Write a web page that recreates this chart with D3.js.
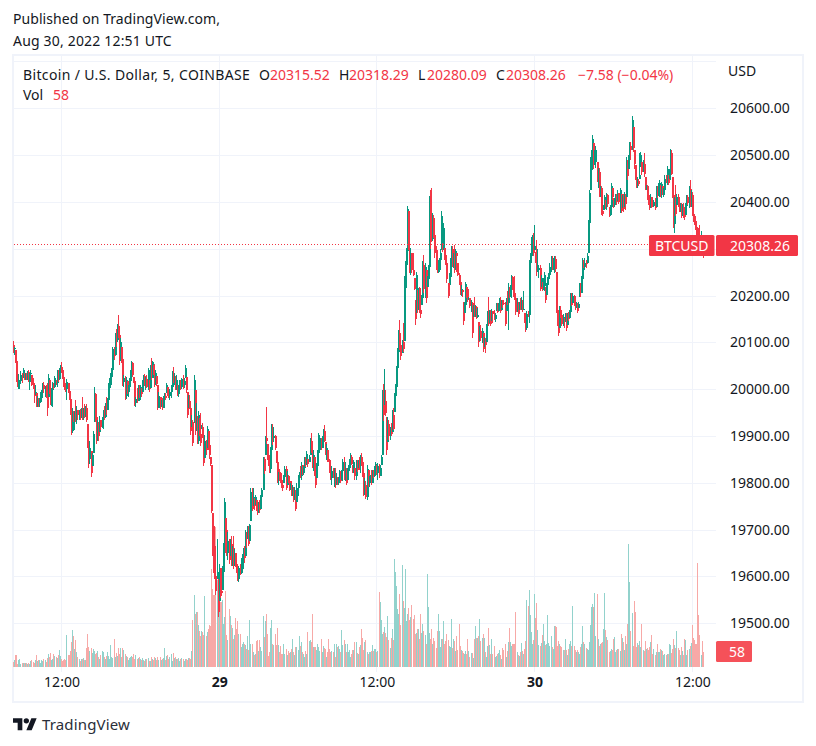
<!DOCTYPE html>
<html><head><meta charset="utf-8">
<script src="https://cdn.jsdelivr.net/npm/d3@7"></script>
<style>html,body{margin:0;background:#fff}svg{display:block}text{font-family:"Noto Sans",sans-serif}</style>
</head><body><svg id="c" width="816" height="746"></svg>
<script>
const priceTicks=[19500,19600,19700,19800,19900,20000,20100,20200,20300,20400,20500,20600,20700];
const priceLabels=[19500,19600,19700,19800,19900,20000,20100,20200,20400,20500,20600];
const timeTicks=["2022-08-28T12:00Z","2022-08-29T00:00Z","2022-08-29T12:00Z","2022-08-30T00:00Z","2022-08-30T12:00Z"];
const timeLabels=["12:00","29","12:00","30","12:00"];
const firstBar="2022-08-28T08:20Z";
const firstOpen=20095;
const lastPrice=20308.26, lastVolume=58;
const highs=[
20104,20091,20084,20061,20050,20033,20020,20038,20035,20045,20034,20035,
20034,20038,20040,20035,20041,20031,20025,20013,20009,19992,19985,19981,
19981,19995,19999,20013,20016,20007,20009,20013,20033,20020,20004,20002,
20016,20013,20028,20020,20041,20041,20045,20052,20059,20043,20030,20020,
20014,20021,20013,20013,19981,19970,19960,19953,19953,19977,19965,19956,
19956,19957,19960,19983,19960,19969,19965,19969,19926,19914,19890,19867,
19864,19910,20004,19992,19949,19935,19931,19943,19935,19940,19956,19965,
19970,19984,19981,20013,20025,20034,20045,20091,20091,20119,20128,20139,
20158,20130,20110,20091,20085,20031,20028,20027,20018,20009,20023,20040,
20061,20059,20027,20027,19984,20002,20009,20009,20009,20002,20020,20031,
20033,20027,20031,20045,20020,20052,20066,20060,20052,20054,20040,20028,
20009,19995,19984,19977,19981,19985,19992,19992,20013,20005,19999,20000,
20009,20038,20048,20035,20028,20031,20009,20009,20020,20020,20025,20031,
20023,20052,20026,19995,19988,19988,19963,19945,19935,20031,19999,19970,
19942,19953,19938,19949,19924,19928,19903,19903,19892,19922,19910,19900,
19856,19838,19736,19721,19707,19665,19679,19594,19626,19619,19619,19622,
19672,19767,19725,19711,19695,19679,19679,19686,19665,19686,19658,19650,
19633,19626,19622,19626,19640,19647,19661,19665,19700,19695,19707,19707,
19713,19789,19789,19789,19767,19775,19764,19757,19760,19764,19775,19789,
19856,19856,19900,19962,19884,19863,19860,19877,19926,19926,19920,19902,
19867,19849,19824,19830,19824,19821,19806,19817,19836,19835,19825,19817,
19814,19799,19803,19796,19792,19792,19785,19800,19817,19824,19835,19845,
19838,19835,19856,19856,19867,19852,19860,19895,19906,19885,19870,19856,
19835,19842,19870,19906,19902,19895,19899,19915,19923,19888,19884,19870,
19863,19849,19831,19835,19831,19831,19831,19820,19813,19813,19828,19825,
19828,19850,19856,19845,19831,19831,19838,19850,19863,19860,19838,19849,
19831,19849,19849,19849,19855,19860,19863,19852,19824,19810,19803,19838,
19828,19814,19817,19828,19828,19828,19835,19845,19838,19842,19840,19838,
19860,19999,20012,20044,19999,19941,19941,19934,19920,19927,19955,19959,
19991,20012,20050,20087,20127,20148,20119,20105,20141,20241,20273,20301,
20392,20380,20364,20301,20291,20291,20237,20191,20251,20212,20216,20219,
20216,20202,20273,20287,20270,20255,20241,20266,20412,20425,20429,20376,20373,20344,
20305,20298,20276,20280,20300,20380,20312,20356,20301,20295,20287,20226,20248,20280,
20306,20306,20291,20309,20300,20292,20269,20248,20230,20222,20212,20187,20187,20230,
20219,20216,20198,20194,20190,20187,20180,20198,20180,20178,20173,20144,20134,20137,
20130,20119,20112,20109,20140,20166,20198,20169,20169,20172,20166,20169,20162,20184,
20184,20184,20194,20198,20190,20191,20191,20187,20194,20210,20226,20219,20223,20244,
20241,20223,20241,20205,20195,20187,20187,20194,20198,20190,20209,20162,20155,20166,
20166,20276,20291,20326,20330,20334,20351,20294,20319,20300,20266,20266,20244,20230,
20237,20251,20219,20226,20240,20248,20269,20284,20284,20280,20284,20284,20251,20191,
20148,20177,20177,20169,20160,20152,20162,20162,20162,20165,20169,20205,20205,20205,
20202,20198,20187,20184,20187,20226,20226,20241,20280,20276,20280,20276,
20291,20362,20426,20496,20512,20543,20525,20511,20519,20486,20472,20472,
20433,20433,20394,20394,20415,20405,20420,20418,20390,20394,20441,20429,
20408,20408,20418,20418,20426,20420,20429,20418,20415,20418,20422,20418,
20496,20489,20500,20528,20528,20583,20560,20510,20479,20457,20454,20450,
20504,20507,20486,20490,20504,20454,20436,20436,20429,20415,20418,20410,
20404,20404,20408,20433,20433,20440,20447,20436,20443,20433,20429,20457,
20457,20477,20457,20470,20514,20511,20454,20433,20411,20436,20418,20418,
20411,20397,20397,20395,20397,20390,20397,20415,20415,20433,20447,20426,
20422,20387,20375,20369,20358,20347,20345,20351,20337,20330,20318.29];
const lows=[
20077,20073,20055,20016,20005,20000,20000,20013,20013,20023,20020,20020,
20020,20020,20016,19999,20016,20006,20000,19970,19988,19962,19962,19962,
19962,19970,19972,19981,19992,19984,19981,19942,19984,19990,19967,19965,
19962,20000,20002,20009,20004,20016,20020,20023,20034,20021,20005,19999,
19995,19977,19992,19977,19945,19903,19906,19931,19912,19931,19925,19935,
19935,19935,19938,19935,19935,19938,19940,19931,19875,19832,19840,19813,
19837,19864,19931,19931,19884,19890,19889,19909,19912,19918,19915,19935,
19938,19945,19956,19974,20000,20002,20016,20027,20062,20073,20090,20101,
20109,20052,20060,20055,20006,20004,19977,19979,19990,19984,20002,20015,
20020,20027,20014,19965,19963,19970,19974,19981,19977,19984,19995,20002,
20006,19999,20002,19999,19993,20002,20020,20025,20031,20004,20010,20006,
19956,19960,19957,19963,19956,19960,19965,19977,19992,19985,19981,19978,
19981,19995,20014,20010,19999,19999,19986,19984,19997,19999,20000,20000,
20002,20023,19992,19938,19960,19957,19903,19920,19878,19928,19903,19910,
19882,19882,19899,19878,19914,19896,19836,19853,19860,19875,19870,19850,
19835,19736,19643,19608,19594,19560,19594,19513,19548,19555,19558,19572,
19587,19665,19650,19643,19635,19626,19643,19622,19622,19615,19622,19620,
19608,19590,19588,19604,19605,19608,19615,19629,19643,19660,19679,19665,
19675,19718,19739,19750,19743,19753,19739,19732,19735,19736,19745,19753,
19785,19819,19860,19884,19849,19835,19821,19821,19852,19880,19888,19870,
19842,19799,19796,19805,19799,19789,19782,19799,19801,19785,19795,19799,
19782,19785,19771,19771,19760,19763,19739,19760,19771,19803,19810,19806,
19817,19817,19828,19834,19838,19834,19845,19860,19863,19831,19825,19814,
19789,19810,19831,19860,19863,19870,19874,19885,19888,19860,19848,19845,
19845,19822,19806,19796,19810,19792,19789,19795,19796,19796,19799,19800,
19806,19803,19806,19805,19796,19806,19813,19825,19831,19838,19821,19821,
19806,19806,19824,19831,19828,19821,19835,19813,19771,19775,19765,19764,
19792,19792,19799,19796,19799,19810,19812,19817,19817,19806,19810,19815,
19838,19860,19933,19966,19943,19860,19888,19891,19891,19899,19909,19913,
19952,19952,20000,20033,20062,20084,20062,20077,20080,20102,20162,20216,
20276,20298,20248,20244,20248,20241,20212,20137,20162,20162,20169,20162,
20152,20180,20184,20205,20195,20184,20219,20234,20262,20300,20314,20316,20323,20280,
20255,20248,20248,20251,20275,20298,20294,20298,20276,20265,20226,20194,20226,20223,
20255,20262,20259,20248,20255,20251,20241,20223,20201,20200,20198,20137,20162,20162,
20194,20187,20191,20173,20165,20109,20155,20155,20155,20150,20152,20091,20102,20102,
20098,20080,20091,20077,20100,20127,20134,20141,20134,20145,20141,20148,20144,20166,
20162,20166,20173,20162,20170,20173,20180,20134,20166,20180,20127,20194,20198,20194,
20212,20198,20191,20159,20165,20155,20169,20169,20169,20165,20169,20141,20123,20127,
20155,20141,20234,20276,20285,20284,20298,20269,20241,20250,20237,20209,20219,20209,
20212,20209,20184,20201,20215,20223,20237,20251,20255,20255,20248,20251,20162,20134,
20114,20130,20152,20134,20135,20130,20144,20125,20137,20145,20152,20162,20177,20184,
20177,20169,20173,20162,20173,20198,20198,20205,20226,20259,20255,20259,
20269,20291,20348,20426,20440,20468,20470,20479,20472,20443,20429,20411,
20411,20372,20369,20383,20390,20385,20383,20390,20367,20369,20383,20404,
20387,20390,20394,20394,20401,20395,20376,20376,20387,20379,20390,20383,
20411,20447,20470,20489,20489,20511,20507,20470,20447,20429,20429,20433,
20450,20475,20457,20465,20454,20426,20426,20404,20394,20383,20387,20388,
20390,20390,20383,20390,20408,20412,20411,20411,20408,20415,20411,20415,
20440,20436,20436,20450,20447,20457,20408,20344,20333,20369,20394,20390,
20379,20379,20365,20370,20365,20362,20372,20390,20394,20387,20390,20390,
20369,20358,20350,20340,20325,20312,20300,20284,20291,20290,20280.09];
const closes=[
20085,20088,20060,20022,20010,20012,20018,20030,20028,20040,20026,20030,
20024,20036,20020,20034,20035,20010,20008,19985,19995,19968,19975,19970,
19978,19990,19994,20008,20000,20004,19986,19960,20025,20000,19975,19998,
20010,20004,20024,20014,20036,20022,20040,20048,20040,20026,20008,20003,
20000,20015,19996,19980,19950,19910,19950,19935,19948,19940,19955,19945,
19952,19938,19955,19942,19958,19945,19960,19935,19885,19850,19875,19820,
19860,19905,19990,19940,19895,19925,19900,19935,19920,19935,19950,19940,
19965,19955,19978,20005,20010,20030,20040,20085,20070,20115,20105,20135,
20115,20060,20100,20065,20015,20025,19985,20020,19995,20005,20018,20035,
20055,20030,20018,19970,19980,19975,20002,19990,20004,19990,20015,20028,
20010,20022,20005,20040,20000,20048,20025,20058,20035,20010,20035,20012,
19960,19985,19965,19975,19960,19978,19985,19982,20008,19990,19985,19995,
20005,20032,20020,20028,20003,20020,19990,20005,20015,20005,20022,20008,
20018,20045,19998,19945,19975,19960,19910,19930,19885,20020,19915,19930,
19890,19945,19905,19885,19920,19900,19842,19890,19870,19915,19880,19860,
19840,19740,19650,19615,19600,19570,19610,19525,19600,19570,19565,19610,
19665,19760,19700,19650,19675,19635,19670,19630,19660,19625,19650,19625,
19612,19595,19618,19608,19635,19642,19655,19640,19690,19680,19702,19670,
19710,19780,19745,19770,19750,19770,19745,19738,19755,19742,19770,19785,
19850,19825,19895,19890,19855,19845,19830,19870,19920,19895,19900,19875,
19845,19805,19820,19810,19805,19795,19790,19812,19830,19790,19815,19805,
19785,19795,19775,19790,19765,19785,19745,19790,19810,19820,19815,19838,
19820,19832,19850,19838,19862,19840,19855,19890,19870,19840,19860,19820,
19795,19835,19865,19870,19895,19875,19895,19910,19890,19865,19875,19850,
19848,19826,19810,19825,19812,19820,19795,19810,19800,19810,19822,19805,
19825,19845,19812,19825,19800,19828,19835,19845,19855,19840,19825,19845,
19815,19845,19828,19845,19835,19855,19845,19820,19780,19795,19770,19830,
19800,19808,19812,19800,19825,19815,19830,19840,19820,19835,19815,19832,
19855,19990,19945,19975,19950,19870,19925,19900,19915,19905,19945,19915,
19985,20005,20045,20080,20120,20095,20070,20100,20085,20235,20265,20295,
20385,20300,20255,20290,20255,20245,20215,20150,20245,20170,20210,20170,
20160,20195,20265,20215,20260,20195,20235,20260,20405,20340,20320,20365,20330,20290,
20260,20252,20255,20275,20290,20370,20300,20345,20285,20270,20235,20200,20240,20275,
20300,20268,20285,20255,20295,20285,20245,20228,20205,20215,20208,20145,20180,20225,
20215,20190,20195,20178,20185,20120,20175,20160,20175,20155,20158,20100,20125,20110,
20125,20085,20105,20095,20135,20160,20140,20165,20140,20168,20160,20150,20158,20180,
20165,20180,20190,20168,20188,20185,20182,20140,20190,20185,20215,20200,20218,20240,
20215,20205,20195,20165,20180,20160,20180,20175,20190,20170,20172,20148,20130,20160,
20158,20270,20285,20320,20328,20290,20305,20280,20250,20255,20258,20215,20238,20215,
20220,20245,20190,20222,20235,20244,20262,20278,20260,20275,20278,20256,20170,20140,
20120,20170,20158,20140,20155,20148,20155,20130,20155,20150,20165,20198,20180,20200,
20185,20175,20180,20168,20182,20220,20205,20235,20275,20262,20270,20268,
20285,20355,20420,20490,20505,20535,20480,20485,20510,20450,20465,20420,
20430,20380,20375,20390,20410,20390,20415,20395,20372,20390,20435,20410,
20395,20405,20410,20400,20420,20400,20425,20380,20410,20385,20415,20395,
20490,20455,20495,20520,20510,20575,20515,20480,20450,20435,20445,20438,
20458,20500,20465,20480,20460,20430,20434,20410,20400,20390,20410,20395,
20392,20400,20388,20428,20415,20435,20440,20418,20438,20420,20425,20450,
20445,20470,20440,20465,20505,20460,20415,20352,20405,20375,20410,20395,
20385,20392,20370,20390,20372,20368,20392,20410,20398,20428,20395,20415,
20375,20362,20360,20345,20330,20320,20310,20295,20325,20315.52,20308.26];
const volumes=[
20,28,45,45,13,26,32,13,15,15,15,14,
15,10,17,12,22,26,18,15,26,46,24,28,
26,15,28,24,32,28,20,36,50,38,52,28,
30,50,42,38,36,48,64,42,30,24,28,30,
28,122,48,45,62,98,141,118,70,103,58,40,
32,25,32,30,36,28,28,75,128,78,60,75,
55,70,60,50,55,62,38,32,48,60,58,40,
32,42,56,44,30,86,38,36,109,40,52,42,
72,50,72,38,72,64,50,44,40,28,35,38,
42,40,50,32,45,30,34,38,32,26,34,28,
22,30,30,35,22,24,38,30,28,40,34,28,
40,28,40,26,30,36,75,26,44,48,30,40,
50,24,52,34,38,32,30,36,22,30,34,30,
24,30,32,26,34,36,30,60,182,276,205,210,
210,160,140,118,140,135,125,272,120,135,145,160,
156,378,300,276,276,538,333,333,260,250,250,256,
167,192,291,122,105,225,195,160,151,109,122,190,
148,176,128,126,77,90,96,90,83,71,118,64,
180,87,87,58,47,51,100,103,62,103,77,60,
195,115,176,205,126,41,58,151,180,90,83,128,
86,151,83,58,80,51,49,87,51,68,45,60,
54,58,69,109,58,45,77,77,64,118,80,96,
58,51,38,62,49,135,100,103,96,203,77,77,
77,67,87,77,60,109,58,80,74,70,38,58,
109,70,58,62,58,87,38,90,77,80,70,58,
141,83,105,87,58,87,58,64,38,51,67,67,
96,96,54,49,77,83,148,113,64,96,103,58,
49,58,58,62,83,62,70,70,58,62,289,250,
180,128,135,154,131,115,195,105,74,113,148,103,
417,366,310,225,205,280,160,391,254,228,376,177,
203,228,182,192,237,183,199,128,132,145,148,109,
205,132,167,139,122,87,359,231,132,109,148,90,
113,99,74,137,205,137,77,109,109,176,90,100,
126,103,82,77,183,73,106,100,60,118,64,167,
80,64,60,55,51,60,49,106,60,38,54,54,
36,106,157,113,113,118,183,100,113,126,113,58,
38,81,151,83,51,106,51,81,38,42,49,55,
64,45,32,74,67,90,38,60,95,149,95,80,
87,87,87,212,58,45,41,58,92,60,49,68,
100,257,235,295,199,135,87,103,280,187,246,141,
83,80,94,122,164,99,83,87,199,92,80,118,
77,68,157,157,153,80,99,90,80,77,64,67,
106,64,45,71,87,99,80,235,80,67,58,64,
58,49,77,90,157,96,90,74,71,64,96,161,
231,244,231,285,118,280,109,80,87,92,96,148,
285,141,115,103,58,62,71,67,109,115,58,64,
71,68,62,126,113,96,64,118,90,164,474,327,
139,206,80,253,212,77,92,85,100,77,164,64,
62,99,71,74,67,77,96,122,51,71,45,58,
87,58,58,71,67,60,45,51,45,51,51,87,
83,54,70,106,83,74,137,74,67,45,77,62,
45,106,103,45,64,70,80,92,160,111,103,90,
87,401,199,122,45,100,58];

const up="#089981",down="#f23645",volUp="#92d2cc",volDown="#f7a9a7",grid="#f0f3fa",ink="#131722";
const svg=d3.select("#c");
const x=d3.scaleUtc().domain([new Date(timeTicks[0]),new Date(timeTicks[4])]).range([61.5,692.3]);
const y=d3.scaleLinear().domain([19500,20600]).range([623.3,108.3]);
const v=d3.scaleLinear().domain([0,100]).range([667,641]);
const t0=+new Date(firstBar);
const bars=highs.map((h,i)=>({t:new Date(t0+i*3e5),h,l:lows[i],c:closes[i],o:i?closes[i-1]:firstOpen,vol:volumes[i]}));
const col=d=>Math.floor(x(d.t));
const clamp=(p,d)=>Math.min(d.h,Math.max(d.l,p));

// frame
svg.append("rect").attr("x",13).attr("y",55).attr("width",790).attr("height",647).attr("fill","#fff").attr("stroke",grid).attr("stroke-width",2);
// grid
const g=svg.append("g").attr("shape-rendering","crispEdges");
g.selectAll(".h").data(priceTicks).join("line").attr("x1",14).attr("x2",716).attr("y1",d=>Math.round(y(d))+.5).attr("y2",d=>Math.round(y(d))+.5).attr("stroke",grid);
g.selectAll(".v").data(timeTicks).join("line").attr("x1",d=>Math.floor(x(new Date(d)))+.5).attr("x2",d=>Math.floor(x(new Date(d)))+.5).attr("y1",56).attr("y2",672).attr("stroke",grid);
// volume
const m=svg.append("g").attr("shape-rendering","crispEdges");
m.selectAll(".vb").data(bars).join("rect").attr("x",col).attr("width",1).attr("y",d=>v(d.vol)).attr("height",d=>v(0)-v(d.vol)).attr("fill",d=>d.c>=d.o?volUp:volDown);
// candles: wick then body
const cg=m.selectAll(".cg").data(bars).join("g").attr("fill",d=>d.c>=d.o?up:down);
cg.append("rect").attr("x",col).attr("width",1).attr("y",d=>y(d.h)).attr("height",d=>Math.max(1,y(d.l)-y(d.h)));
cg.append("rect").attr("x",d=>col(d)-.0).attr("width",2).attr("y",d=>y(clamp(Math.max(d.o,d.c),d))).attr("height",d=>Math.max(1,y(clamp(Math.min(d.o,d.c),d))-y(clamp(Math.max(d.o,d.c),d))));
// price line
svg.append("line").attr("x1",14).attr("x2",649).attr("y1",Math.floor(y(lastPrice))+.5).attr("y2",Math.floor(y(lastPrice))+.5).attr("stroke",down).attr("stroke-dasharray","1 2").attr("shape-rendering","crispEdges");
// axes
const ya=svg.append("g").attr("transform","translate(716,0)").call(d3.axisRight(y).tickValues(priceLabels).tickFormat(d3.format(".2f")).tickSize(0).tickPadding(14));
const xa=svg.append("g").attr("transform","translate(0,672)").call(d3.axisBottom(x).tickValues(timeTicks.map(d=>new Date(d))).tickFormat((d,i)=>timeLabels[i]).tickSize(0).tickPadding(5));
[ya,xa].forEach(a=>{a.select(".domain").remove();a.selectAll("text").attr("font-family",'"Noto Sans",sans-serif').attr("font-size",14).attr("fill",ink)});
xa.selectAll("text").attr("font-weight",(d,i)=>i%2?700:400);
// labels
function T(px,py,s,o={}){return svg.append("text").attr("x",px).attr("y",py).attr("font-size",o.size||14).attr("fill",o.fill||ink).attr("font-weight",o.w||400).attr("text-anchor",o.a||"start").attr("letter-spacing",o.ls||0).text(s)}
function R(px,py,w,h,f){svg.append("rect").attr("x",px).attr("y",py).attr("width",w).attr("height",h).attr("rx",1.5).attr("fill",f)}
R(649,235,65.5,21,down);R(716,235,82,21,down);
T(681.7,250.5,"BTCUSD",{fill:"#fff",a:"middle"});T(760,250.5,d3.format(".2f")(lastPrice),{fill:"#fff",a:"middle"});
R(716,641,36,21,"#f55159");T(737,656.5,String(lastVolume),{fill:"#fff",a:"middle"});
T(13,24,"Published on TradingView.com,",{ls:.07});T(13,46,"Aug 30, 2022 12:51 UTC",{ls:.18});
T(728,76,"USD");
T(23,80,"Bitcoin / U.S. Dollar, 5, COINBASE",{ls:.36});
[[259,"O",ink],[270,"20315.52",down],[339,"H",ink],[349,"20318.29",down],[418,"L",ink],[427,"20280.09",down],[496,"C",ink],[506,"20308.26",down],[578,"−7.58 (−0.04%)",down]].forEach(a=>T(a[0],80,a[1],{fill:a[2]}));
T(23,100,"Vol");T(53,100,String(lastVolume),{fill:down});
// logo
svg.append("g").attr("transform","translate(13,715.5) scale(.667)").attr("fill",ink).call(s=>{s.append("path").attr("d","M14 22H7V11H0V4h14v18zM28 22h-8l7.5-18h8L28 22z");s.append("circle").attr("cx",20).attr("cy",8).attr("r",4)});
T(42,730,"TradingView",{size:15,fill:"#2a2e39",ls:.15});
</script></body></html>
